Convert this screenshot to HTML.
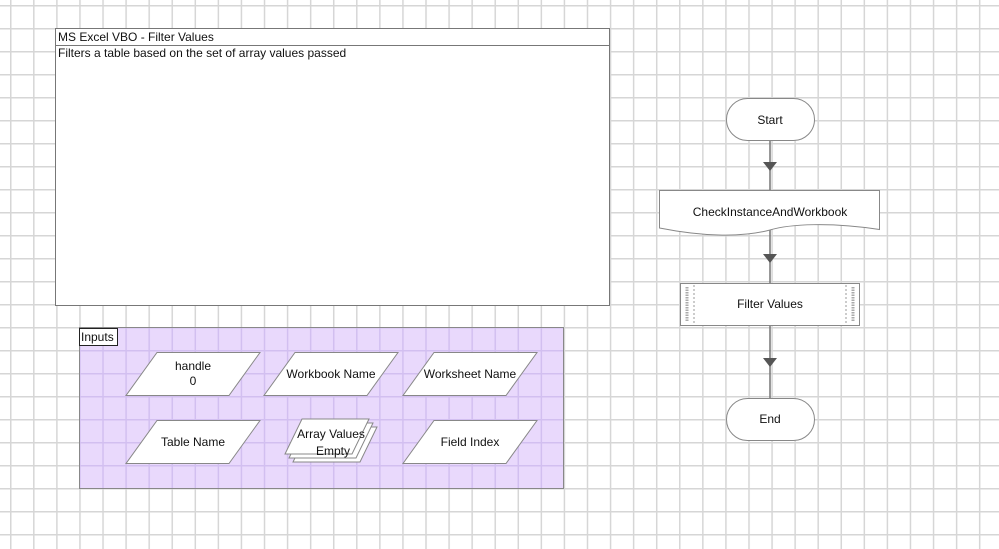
<!DOCTYPE html>
<html><head><style>
html,body{margin:0;padding:0;background:#fff;}
svg{display:block;}
text{font-family:"Liberation Sans",sans-serif;font-size:12px;fill:#111;}
</style></head><body>
<svg width="999" height="549" viewBox="0 0 999 549" xmlns="http://www.w3.org/2000/svg">
<defs>
<pattern id="g" x="10" y="5" width="23.07" height="23" patternUnits="userSpaceOnUse">
<path d="M0.75 0V23M0 0.75H23.07" stroke="#d6d6d6" stroke-width="1.5" fill="none"/>
</pattern>
<pattern id="gp" x="10" y="5" width="23.07" height="23" patternUnits="userSpaceOnUse">
<path d="M0.75 0V23M0 0.75H23.07" stroke="#d2bff0" stroke-width="1.5" fill="none"/>
</pattern>
</defs>
<rect width="999" height="549" fill="#fff"/>
<rect width="999" height="549" fill="url(#g)"/>

<!-- description box -->
<rect x="55.5" y="28.5" width="554" height="277" fill="#fff" stroke="#777"/>
<line x1="55" y1="45.5" x2="609" y2="45.5" stroke="#777"/>
<text x="58" y="41">MS Excel VBO - Filter Values</text>
<text x="58" y="57">Filters a table based on the set of array values passed</text>

<!-- inputs -->
<rect x="79.5" y="327.5" width="484" height="161" fill="#e9d9fc" stroke="#888"/>
<rect x="80" y="328" width="483" height="160" fill="url(#gp)"/>
<rect x="79.5" y="328.5" width="38" height="17" fill="#fff" stroke="#222"/>
<text x="81" y="341">Inputs</text>

<g fill="#fff" stroke="#888">
<polygon points="157,352.5 260,352.5 229,395.5 126,395.5"/>
<polygon points="295,352.5 398,352.5 367,395.5 264,395.5"/>
<polygon points="434,352.5 537,352.5 506,395.5 403,395.5"/>
<polygon points="157,420.5 260,420.5 229,463.5 126,463.5"/>
<polygon points="434,420.5 537,420.5 506,463.5 403,463.5"/>
<polygon points="310,427 377,427 360,462 293,462"/>
<polygon points="306,423 373,423 356,458 289,458"/>
<polygon points="302,419 369,419 352,454 285,454"/>
</g>
<g text-anchor="middle">
<text x="193" y="370">handle</text>
<text x="193" y="385">0</text>
<text x="331" y="378">Workbook Name</text>
<text x="470" y="378">Worksheet Name</text>
<text x="193" y="446">Table Name</text>
<text x="331" y="438">Array Values</text>
<text x="333" y="455">Empty</text>
<text x="470" y="446">Field Index</text>
</g>

<!-- flow -->
<line x1="770" y1="140" x2="770" y2="398" stroke="#777" stroke-width="1.5"/>
<g fill="#555">
<polygon points="763,162 777,162 770,171"/>
<polygon points="763,254 777,254 770,263"/>
<polygon points="763,358 777,358 770,367"/>
</g>
<rect x="726.5" y="98.5" width="88" height="42" rx="21" fill="#fff" stroke="#888"/>
<text x="770" y="124" text-anchor="middle">Start</text>
<path d="M659.5 190.5H879.5V229.5C830 222 790 224 770 230C740 238 700 236 659.5 228Z" fill="#fff" stroke="#888"/>
<text x="770" y="216" text-anchor="middle">CheckInstanceAndWorkbook</text>
<rect x="680.5" y="283.5" width="179" height="42" fill="#fff" stroke="#888"/>
<line x1="694" y1="285" x2="694" y2="324" stroke="#999" stroke-dasharray="2,2"/>
<line x1="846" y1="285" x2="846" y2="324" stroke="#999" stroke-dasharray="2,2"/>
<line x1="687" y1="287" x2="687" y2="322" stroke="#aaa" stroke-width="3" stroke-dasharray="1.5,1"/>
<line x1="853" y1="287" x2="853" y2="322" stroke="#aaa" stroke-width="3" stroke-dasharray="1.5,1"/>
<text x="770" y="308" text-anchor="middle">Filter Values</text>
<rect x="726.5" y="398.5" width="88" height="42" rx="21" fill="#fff" stroke="#888"/>
<text x="770" y="423" text-anchor="middle">End</text>
</svg>
</body></html>
